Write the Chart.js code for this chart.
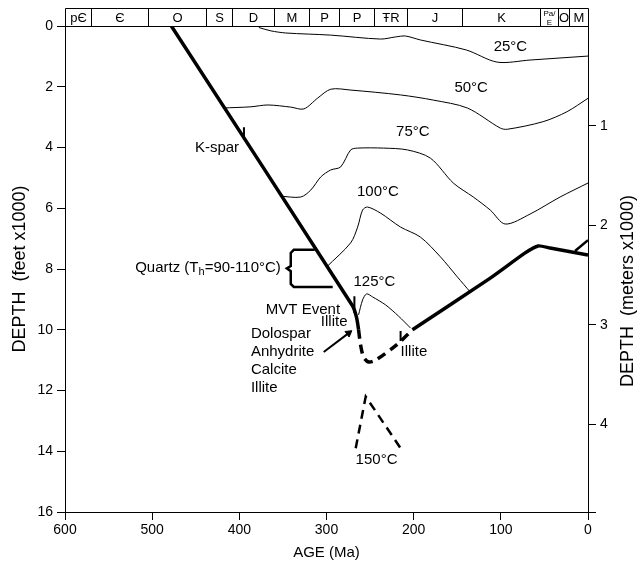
<!DOCTYPE html>
<html>
<head>
<meta charset="utf-8">
<script src="https://cdn.jsdelivr.net/npm/chart.js@4.4.0/dist/chart.umd.min.js"></script>
<style>
  html, body { margin: 0; padding: 0; background: #fff; }
  #wrap { width: 644px; height: 567px; }
</style>
</head>
<body>
<div id="wrap"><canvas id="burialChart" width="644" height="567"></canvas></div>
<script>
// ages in Ma, depths in feet x1000
const burialAge1 = [478, 270, 265.4, 263.2];
const burialDepth1 = [0, 9.22, 9.61, 10.0];
const burialAge2 = [263.2, 260.9, 257.4, 251.7, 243.7, 218.5, 201.4];
const burialDepth2 = [10.0, 10.5, 10.9, 11.06, 11.0, 10.47, 10.0];
const burialAge3 = [201.4, 112.1, 72.1, 57.2, 43.5, 0];
const burialDepth3 = [10.0, 8.3, 7.47, 7.24, 7.31, 7.54];
const branchAge = [14.9, 0];
const branchDepth = [7.41, 7.05];

const iso25Age = [377.6, 363.8, 346.7, 295.2, 238, 220.8, 209.4, 192.2, 139.6, 104.1, 66.4, 0];
const iso25Depth = [0.05, 0.16, 0.23, 0.30, 0.43, 0.36, 0.33, 0.46, 0.79, 1.19, 1.12, 0.99];
const iso50Age = [418.8, 386.7, 367.3, 341, 326, 310, 295, 272, 215, 177.3, 138.4, 100.7, 92.7, 51.5, 24, 0];
const iso50Depth = [2.70, 2.66, 2.60, 2.67, 2.73, 2.37, 2.08, 2.11, 2.27, 2.44, 2.70, 3.36, 3.40, 3.15, 2.82, 2.38];
const iso75Age = [353.5, 329.5, 318, 306.6, 295.2, 283.8, 272.3, 264.3, 234.6, 207.1, 180.8, 154.5, 131.6, 112.1, 95, 66.4, 32, 0];
const iso75Depth = [5.60, 5.63, 5.40, 4.97, 4.74, 4.64, 4.08, 4.02, 4.02, 4.08, 4.35, 5.17, 5.63, 6.06, 6.52, 6.19, 5.63, 5.17];
const iso100Age = [299.8, 272.3, 264.3, 258.6, 252.9, 238, 215, 192.2, 169.3, 149.9, 135];
const iso100Depth = [7.93, 7.14, 6.62, 6.06, 5.96, 6.16, 6.62, 6.95, 7.60, 8.26, 8.76];
const iso125Age = [263.2, 258.6, 254, 247.1, 232.3, 217.4, 203.7];
const iso125Depth = [9.51, 9.02, 8.82, 8.92, 9.18, 9.55, 9.94];
const iso150Age = [266.5, 255, 215];
const iso150Depth = [13.9, 12.2, 13.9];

const quartzAge = [313.5, 337.5, 341, 341, 345.5, 341, 341, 337.5, 292.9];
const quartzDepth = [7.37, 7.37, 7.47, 7.90, 7.98, 8.07, 8.49, 8.59, 8.59];
const ksparAge = [394.7, 394.7];
const ksparDepth = [3.33, 3.75];
const mvtAge = [268, 268];
const mvtDepth = [8.9, 9.45];
const illiteAge = [215, 215];
const illiteDepth = [10.04, 10.37];
const arrowAge = [303.2, 274.6];
const arrowDepth = [10.73, 10.11];

const periodNames = ['pЄ', 'Є', 'O', 'S', 'D', 'M', 'P', 'P', 'ŦR', 'J', 'K', 'Pa/E', 'O', 'M'];
const periodBounds = [600, 570, 505, 438, 408, 360, 320, 286, 245, 208, 144, 55, 34, 22, 0];

const noteText = ['25°C', '50°C', '75°C', '100°C', '125°C', '150°C', 'K-spar', 'MVT Event', 'Illite', 'Illite'];
const noteAge = [89, 134, 201, 241, 245, 242.6, 425.6, 327, 291.2, 199.7];
const noteDepth = [0.68, 2.04, 3.49, 5.47, 8.43, 14.29, 4.02, 9.35, 9.74, 10.73];
const mineralText = ['Dolospar', 'Anhydrite', 'Calcite', 'Illite'];
const mineralDepth = [10.14, 10.73, 11.33, 11.92];

const FT_PER_M = 3.28084;

function line(ages, depths, opts) {
    return Object.assign({
        data: ages.map((a, i) => ({ x: a, y: depths[i] })),
        showLine: true,
        pointRadius: 0,
        borderColor: '#000',
        backgroundColor: '#000',
        borderWidth: 1,
        tension: 0,
        xAxisID: 'x',
        yAxisID: 'y'
    }, opts);
}

const thick = { borderWidth: 3.5, borderJoinStyle: 'round', borderCapStyle: 'butt' };

const datasets = [
    line(iso25Age, iso25Depth, { tension: 0.3 }),
    line(iso50Age, iso50Depth, { tension: 0.3 }),
    line(iso75Age, iso75Depth, { tension: 0.3 }),
    line(iso100Age, iso100Depth, { tension: 0.3 }),
    line(iso125Age, iso125Depth, { tension: 0.3 }),
    line(iso150Age, iso150Depth, { borderWidth: 2.5, borderDash: [9, 6] }),
    line(burialAge1, burialDepth1, Object.assign({}, thick, { tension: 0.2 })),
    line(burialAge2, burialDepth2, Object.assign({}, thick, { borderDash: [9, 6], tension: 0.3 })),
    line(burialAge3, burialDepth3, Object.assign({}, thick, { tension: 0.2 })),
    line(branchAge, branchDepth, { borderWidth: 2.5 }),
    line(quartzAge, quartzDepth, { borderWidth: 2.5 }),
    line(ksparAge, ksparDepth, { borderWidth: 2 }),
    line(mvtAge, mvtDepth, { borderWidth: 2 }),
    line(illiteAge, illiteDepth, { borderWidth: 2 }),
    line(arrowAge, arrowDepth, {
        borderWidth: 2,
        pointRadius: [0, 4],
        pointStyle: 'triangle',
        rotation: [0, 53],
        pointBorderWidth: 1
    })
];

const FONT = '"Liberation Sans", Arial, sans-serif';

const periodPlugin = {
    id: 'periods',
    afterDraw(chart) {
        const { ctx, chartArea } = chart;
        const x = chart.scales.x;
        const top = chartArea.top - 17.5;
        const bottom = chartArea.top + 0.5;
        ctx.save();
        ctx.strokeStyle = '#000';
        ctx.lineWidth = 1;
        ctx.fillStyle = '#000';
        ctx.textAlign = 'center';
        ctx.textBaseline = 'middle';
        const px = periodBounds.map(v => Math.round(x.getPixelForValue(v)) + 0.5);
        ctx.beginPath();
        ctx.moveTo(px[0], top);
        ctx.lineTo(px[px.length - 1], top);
        ctx.moveTo(px[0], bottom);
        ctx.lineTo(px[px.length - 1], bottom);
        px.forEach(p => { ctx.moveTo(p, top); ctx.lineTo(p, bottom); });
        ctx.stroke();
        periodNames.forEach((name, i) => {
            const cx = (px[i] + px[i + 1]) / 2;
            if (name === 'Pa/E') {
                ctx.font = '8px ' + FONT;
                ctx.fillText('Pa/', cx, top + 5);
                ctx.fillText('E', cx, bottom - 3.5);
            } else {
                ctx.font = '13px ' + FONT;
                ctx.fillText(name, cx, (top + bottom) / 2 + 0.5);
            }
        });
        ctx.restore();
    }
};

const notePlugin = {
    id: 'notes',
    afterDatasetsDraw(chart) {
        const { ctx } = chart;
        const x = chart.scales.x, y = chart.scales.y;
        ctx.save();
        ctx.fillStyle = '#000';
        ctx.font = '15px ' + FONT;
        ctx.textBaseline = 'middle';
        ctx.textAlign = 'center';
        noteText.forEach((t, i) => {
            ctx.fillText(t, x.getPixelForValue(noteAge[i]), y.getPixelForValue(noteDepth[i]));
        });
        ctx.textAlign = 'left';
        mineralText.forEach((t, i) => {
            ctx.fillText(t, x.getPixelForValue(386.7), y.getPixelForValue(mineralDepth[i]));
        });

        // Quartz (Th=90-110°C), right-aligned against the brace
        const endX = x.getPixelForValue(352.4);
        const qy = y.getPixelForValue(7.97);
        const big = '15px ' + FONT;
        const small = '11px ' + FONT;
        ctx.font = big;
        const w1 = ctx.measureText('Quartz (T').width;
        const w3 = ctx.measureText('=90-110°C)').width;
        ctx.font = small;
        const w2 = ctx.measureText('h').width;
        const sx = endX - (w1 + w2 + w3);
        ctx.font = big;
        ctx.fillText('Quartz (T', sx, qy);
        ctx.font = small;
        ctx.fillText('h', sx + w1, qy + 4);
        ctx.font = big;
        ctx.fillText('=90-110°C)', sx + w1 + w2, qy);

        // right axis title, reading bottom to top like the left one
        ctx.font = '18px ' + FONT;
        ctx.translate(628, 291);
        ctx.rotate(-Math.PI / 2);
        ctx.textAlign = 'center';
        ctx.fillText('DEPTH  (meters x1000)', 0, 0);
        ctx.restore();
    }
};

const axisGrid = { drawOnChartArea: false, drawTicks: true, tickLength: 8, color: '#000', lineWidth: 1 };
const axisBorder = { display: true, color: '#000', width: 1 };
const tickFont = { family: FONT, size: 14 };

new Chart(document.getElementById('burialChart'), {
    type: 'scatter',
    data: { datasets: datasets },
    options: {
        responsive: false,
        animation: false,
        devicePixelRatio: 1,
        layout: { padding: { top: 26, left: 0, right: 0, bottom: 0 } },
        plugins: { legend: { display: false }, tooltip: { enabled: false } },
        scales: {
            x: {
                type: 'linear', position: 'bottom', reverse: true, min: 0, max: 600,
                ticks: { stepSize: 100, color: '#000', font: tickFont, padding: 2, maxRotation: 0 },
                grid: axisGrid, border: axisBorder,
                title: { display: true, text: 'AGE (Ma)', color: '#000', font: { family: FONT, size: 15 }, padding: { top: 0, bottom: 5 } },
                afterFit: s => { s.height = 55; }
            },
            y: {
                type: 'linear', position: 'left', reverse: true, min: 0, max: 16,
                ticks: { stepSize: 2, color: '#000', font: tickFont, padding: 4 },
                grid: axisGrid, border: axisBorder,
                title: { display: true, text: 'DEPTH  (feet x1000)', color: '#000', font: { family: FONT, size: 18 }, padding: { top: 9, bottom: 0 } },
                afterFit: s => { s.width = 65; }
            },
            y2: {
                type: 'linear', position: 'right', reverse: true, min: 0, max: 16 / FT_PER_M,
                afterBuildTicks: s => { s.ticks = [1, 2, 3, 4, 16 / FT_PER_M].map(v => ({ value: v })); },
                ticks: { color: '#000', font: tickFont, padding: 4, callback: v => Number.isInteger(v) ? v : '' },
                grid: axisGrid, border: axisBorder,
                afterFit: s => { s.width = 56; }
            }
        }
    },
    plugins: [periodPlugin, notePlugin]
});
</script>
</body>
</html>
